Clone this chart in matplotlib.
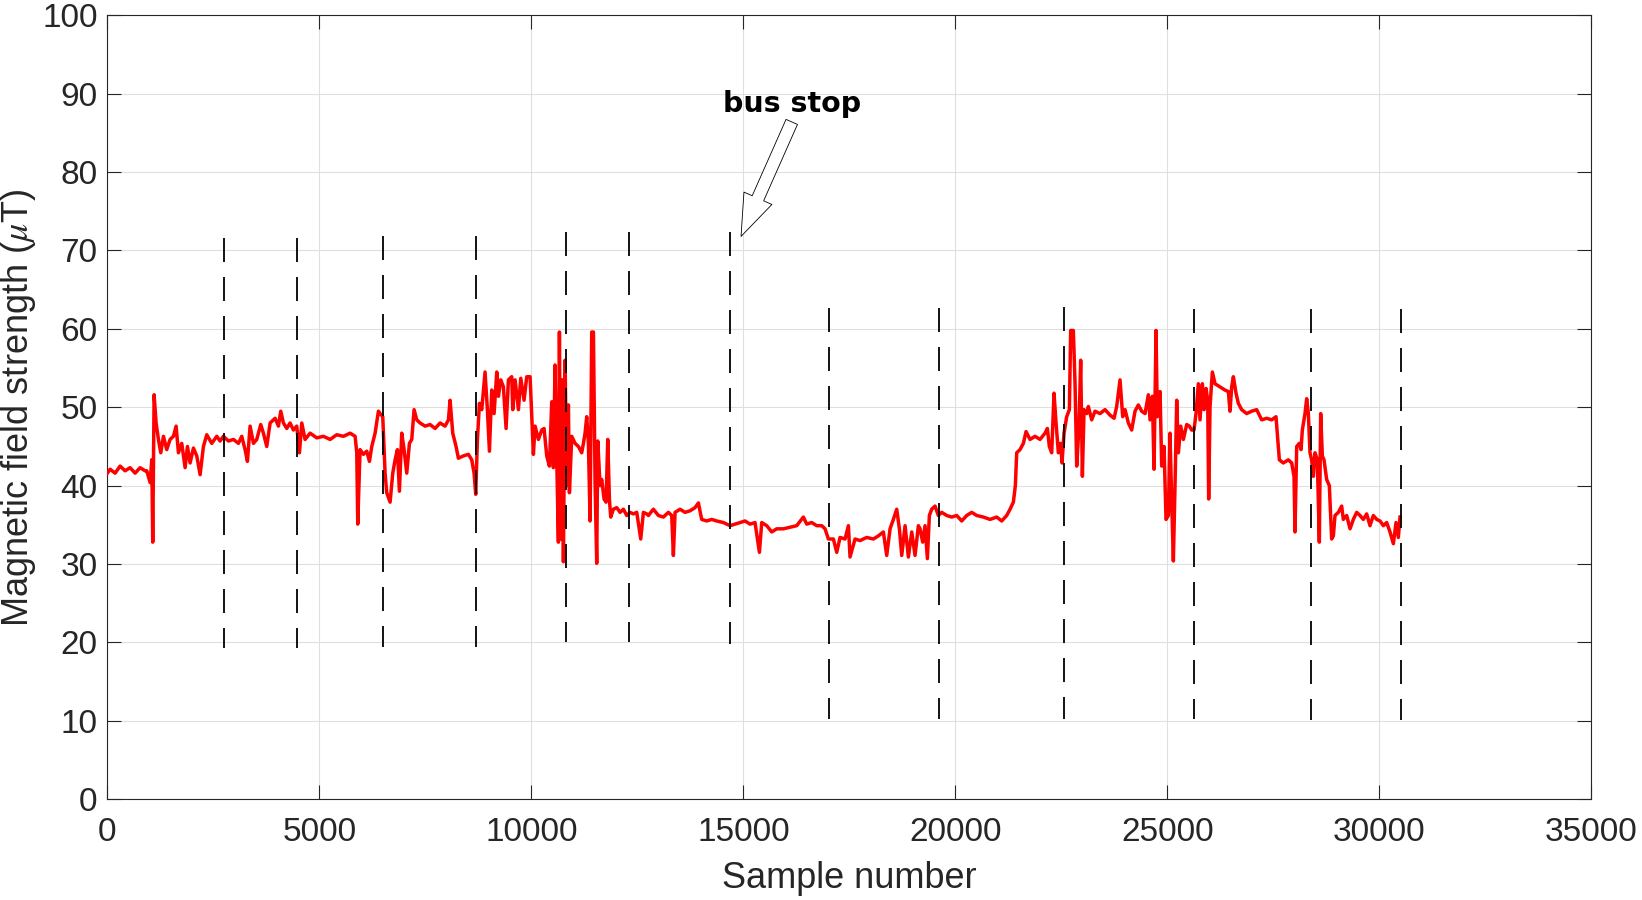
import matplotlib
matplotlib.use("Agg")
import matplotlib.pyplot as plt
import numpy as np

# ---- data (sample number, field strength in uT) ----
seg1_x = [0, 64, 182, 300, 418, 536, 654, 771, 889, 929, 1007, 1047, 1070, 1102,
          1149, 1204, 1259, 1322, 1400, 1479, 1558, 1621, 1676, 1754, 1833, 1888,
          1951, 2029, 2108, 2187, 2265, 2344, 2462, 2580, 2658, 2737, 2855, 2973,
          3091, 3169, 3248, 3303, 3366, 3445, 3523, 3617, 3680, 3759, 3838, 3956,
          4034, 4089, 4152, 4231, 4309, 4388, 4467, 4530, 4585, 4663, 4781, 4938,
          5096, 5253, 5410, 5567, 5725, 5843, 5882, 5905, 5960, 6039, 6118, 6181,
          6236, 6314, 6393]
seg1_y = [41.6, 42.1, 41.6, 42.5, 41.9, 42.3, 41.6, 42.3, 41.9, 41.9, 40.4, 43.3, 32.8, 51.6,
          48.0, 45.9, 44.2, 46.3, 44.6, 45.9, 46.3, 47.6, 44.2, 45.4, 42.3, 45.0,
          42.9, 44.8, 43.8, 41.4, 45.0, 46.5, 45.4, 46.3, 45.7, 46.3, 45.7, 45.9,
          45.4, 46.3, 44.6, 43.1, 47.6, 45.4, 45.9, 47.8, 46.7, 45.0, 48.0, 48.6,
          47.6, 49.5, 48.0, 47.3, 48.0, 47.1, 47.6, 44.2, 48.0, 45.9, 46.7, 46.1,
          46.3, 45.9, 46.5, 46.3, 46.7, 46.3, 44.2, 35.1, 44.6, 44.0, 44.4, 43.1,
          45.0, 46.7, 49.5]

seg2_x = [6432, 6495, 6550, 6589, 6668, 6731, 6786, 6841, 6888, 6943, 6998, 7061,
          7124, 7179, 7234, 7297, 7375, 7493, 7611, 7729, 7847, 7965, 8044, 8083,
          8146, 8224, 8279, 8397, 8515, 8594, 8649, 8688, 8728, 8775, 8830, 8908,
          8963, 9011, 9066, 9121, 9184, 9223, 9278, 9341, 9404, 9459, 9537, 9561,
          9616, 9695, 9750, 9828, 9891, 9970, 10009, 10048, 10088, 10166, 10245,
          10300, 10363, 10426, 10481, 10520, 10559, 10599, 10638, 10662, 10693,
          10732, 10756, 10795, 10835, 10874, 10898, 10953, 11031, 11110, 11188,
          11228, 11267, 11306, 11346, 11385, 11424, 11464, 11503, 11542, 11566,
          11621, 11660, 11715, 11762, 11802, 11841, 11872, 11935, 12014, 12093,
          12171, 12250, 12328, 12407, 12486, 12580, 12643, 12722]
seg2_y = [49.2, 48.8, 41.6, 39.1, 37.9, 41.6, 43.3, 44.6, 39.3, 46.7, 44.6, 41.6,
          45.4, 45.9, 49.7, 48.4, 48.0, 47.6, 47.8, 47.3, 48.0, 47.6, 48.4, 50.9,
          46.7, 45.0, 43.5, 43.8, 44.0, 43.3, 41.6, 38.9, 45.9, 50.5, 49.7, 54.5,
          49.7, 44.4, 52.2, 49.2, 54.5, 51.4, 53.5, 52.6, 47.3, 53.5, 53.9, 49.7,
          53.5, 49.7, 53.7, 50.9, 53.9, 53.9, 48.8, 44.0, 47.6, 45.9, 47.1,
          47.3, 43.8, 42.5, 50.7, 42.3, 55.4, 43.3, 32.8, 59.6, 33.2,
          53.5, 30.3, 56.0, 40.0, 50.3, 39.1, 46.3, 45.4, 45.0, 44.2,
          45.4, 46.7, 48.8, 45.4, 35.5, 59.6, 59.6, 40.4, 30.1, 45.7,
          40.0, 40.8, 38.3, 37.9, 45.9, 38.3, 36.0, 37.0, 37.2, 36.6,
          37.0, 36.2, 36.6, 36.4, 36.6, 33.2, 36.6, 36.4]

seg3_x = [12761, 12878, 12996, 13114, 13232, 13311, 13350, 13390, 13507, 13625,
          13743, 13861, 13940, 14018, 14136, 14254, 14372, 14530, 14687, 14805,
          14923, 15041, 15158, 15276, 15379, 15434, 15552, 15670, 15787, 15945,
          16102, 16259, 16416, 16495, 16613, 16731, 16849, 16927, 17006, 17124,
          17203, 17281, 17399, 17478, 17517, 17635, 17753, 17910, 18067, 18185,
          18303, 18382, 18461, 18539, 18618, 18681, 18736, 18815, 18893, 18972,
          19050, 19129]
seg3_y = [36.2, 37.0, 36.2, 36.0, 36.6, 36.2, 31.1, 36.6, 37.0, 36.6,
          36.8, 37.2, 37.8, 35.7, 35.5, 35.7, 35.5, 35.3, 34.9, 35.1,
          35.3, 35.5, 35.1, 35.3, 31.5, 35.3, 34.9, 34.1, 34.5, 34.5,
          34.7, 34.9, 36.0, 35.1, 35.3, 34.9, 34.9, 34.5, 33.2, 33.2,
          31.5, 33.4, 33.2, 34.9, 30.9, 33.2, 33.0, 33.4, 33.2, 33.6,
          34.1, 31.1, 34.5, 35.7, 37.0, 34.5, 31.1, 34.9, 30.9, 34.1,
          31.1, 34.9]

seg4_x = [19168, 19231, 19286, 19341, 19388, 19443, 19522, 19600, 19679, 19797,
          19915, 20033, 20151, 20269, 20387, 20504, 20662, 20819, 20976, 21094,
          21212, 21291, 21369, 21416, 21448, 21526, 21605, 21668, 21762, 21880,
          21998, 22116, 22171, 22218, 22273, 22328, 22376, 22431, 22486, 22517,
          22564, 22627, 22690, 22721, 22784, 22824, 22863, 22918, 22957, 22997,
          23036, 23099, 23138, 23217, 23295, 23413, 23531, 23649, 23744, 23806,
          23885, 23948, 24003, 24082, 24160, 24239, 24317, 24396, 24475, 24553,
          24593, 24648, 24687, 24734, 24765, 24829, 24868, 24923, 24970, 25025,
          25064, 25104, 25143, 25182, 25222, 25261, 25316, 25379, 25458, 25520]
seg4_y = [34.5, 32.8, 34.9, 30.7, 36.2, 37.0, 37.4, 36.2, 36.6, 36.2,
          36.0, 36.2, 35.5, 36.2, 36.6, 36.2, 36.0, 35.7, 36.0, 35.5,
          36.2, 37.0, 37.9, 40.0, 44.2, 44.6, 45.4, 46.9, 45.9, 46.3,
          45.9, 46.7, 47.3, 45.0, 44.2, 51.8, 48.0, 44.2, 45.4, 42.9,
          46.7, 48.8, 49.7, 59.8, 59.8, 53.0, 42.5, 47.6, 56.0, 41.2,
          49.7, 49.2, 50.1, 48.4, 49.5, 49.2, 49.7, 49.0, 48.6, 50.1,
          53.5, 48.8, 49.7, 48.0, 47.1, 49.5, 50.3, 49.5, 49.2, 51.6,
          48.4, 51.4, 42.1, 59.8, 48.8, 52.0, 42.5, 45.0, 35.7, 36.2,
          46.7, 37.9, 30.4, 40.0, 50.9, 44.2, 47.6, 45.9, 47.8, 47.6]

seg5_x = [25575, 25630, 25677, 25732, 25772, 25827, 25866, 25913, 25953, 25976,
          26008, 26063, 26126, 26243, 26361, 26440, 26479, 26519, 26558, 26621,
          26676, 26754, 26872, 26990, 27108, 27226, 27344, 27462, 27564, 27643,
          27737, 27855, 27934, 27989, 28012, 28052, 28114, 28154, 28185, 28248,
          28288, 28327, 28366, 28405, 28445, 28484, 28539, 28586, 28618, 28657,
          28696, 28759, 28822, 28877, 28917, 28956, 29035, 29113, 29152, 29231,
          29310, 29388, 29467, 29545, 29624, 29703, 29781, 29860, 29939, 30017,
          30096, 30175, 30253, 30332, 30395, 30450, 30489]
seg5_y = [47.1, 47.1, 49.2, 53.0, 48.4, 53.0, 49.7, 52.4, 50.9, 38.3,
          50.1, 54.5, 53.0, 52.6, 52.2, 52.0, 49.5, 52.6, 53.9, 51.8,
          50.5, 49.7, 49.2, 49.5, 49.7, 48.4, 48.6, 48.4, 48.8, 43.3,
          42.9, 43.3, 42.9, 41.2, 34.1, 45.0, 45.4, 44.6, 47.1, 49.2,
          51.1, 49.2, 44.2, 43.3, 41.2, 44.2, 43.3, 32.8, 49.2, 43.8,
          43.3, 40.8, 40.0, 33.2, 33.6, 36.2, 36.6, 37.4, 35.7, 36.2,
          34.5, 35.7, 36.6, 36.2, 35.7, 36.4, 34.9, 36.2, 35.7, 35.5,
          34.9, 35.3, 34.1, 32.6, 35.3, 33.4, 36.0]

sample_number = np.concatenate([seg1_x, seg2_x, seg3_x, seg4_x, seg5_x])
field_strength = np.concatenate([seg1_y, seg2_y, seg3_y, seg4_y, seg5_y])

# bus stop markers: sample position, bottom and top of the dashed line
stop_x = [2759, 4481, 6510, 8703, 10826, 12312, 14693,
          17028, 19623, 22564, 25637, 28389, 30519]
stop_low = [19.3, 19.3, 19.4, 19.4, 20.0, 20.0, 19.8,
            10.2, 10.2, 10.3, 10.2, 10.1, 10.1]
stop_high = [71.6, 71.6, 71.8, 71.8, 72.4, 72.4, 72.3,
             62.7, 62.7, 62.8, 62.6, 62.5, 62.5]

plt.rcParams['font.family'] = ['Liberation Sans', 'DejaVu Sans']
plt.rcParams['mathtext.fontset'] = 'stix'

fig = plt.figure(figsize=(16.42, 9), dpi=100)
ax = fig.add_axes([0.0654, 0.1119, 0.9037, 0.8711])

ax.plot(sample_number, field_strength, color='#ff0000', lw=2.5, zorder=3)

for x, lo, hi in zip(stop_x, stop_low, stop_high):
    # drawn top-down so the dash pattern starts at the top like the original
    ax.plot([x, x], [hi, lo], color='black', lw=1.3,
            linestyle=(0, (13.3, 8.3)), zorder=4)

ax.annotate('', xy=(14946, 71.8), xytext=(16142, 86.4),
            arrowprops=dict(arrowstyle='simple,head_length=1.5,head_width=1.1,tail_width=0.45',
                            mutation_scale=20, fc='white', ec='black', lw=0.6,
                            shrinkA=0, shrinkB=0))
ax.text(16149, 87.7, 'bus stop', family='DejaVu Sans', fontweight='bold',
        fontsize=20.5, ha='center', va='baseline', color='black')

ax.set_xlim(0, 35000)
ax.set_ylim(0, 100)
ax.set_xticks(np.arange(0, 35001, 5000))
ax.set_yticks(np.arange(0, 101, 10))

ax.grid(True, color='#dfdfdf', lw=0.8)
ax.set_axisbelow(True)

for s in ax.spines.values():
    s.set_color('#262626')
    s.set_linewidth(0.8)
ax.tick_params(direction='in', length=10, width=0.8, colors='#262626',
               labelsize=24, top=True, right=True)
ax.tick_params(axis='x', pad=13)
ax.tick_params(axis='y', pad=7)

ax.set_xlabel('Sample number', fontsize=26, color='#262626', labelpad=9)
ax.set_ylabel(r'Magnetic field strength ($\mu$T)', fontsize=26,
              color='#262626', labelpad=3)

fig.savefig('out.png', dpi=100)
